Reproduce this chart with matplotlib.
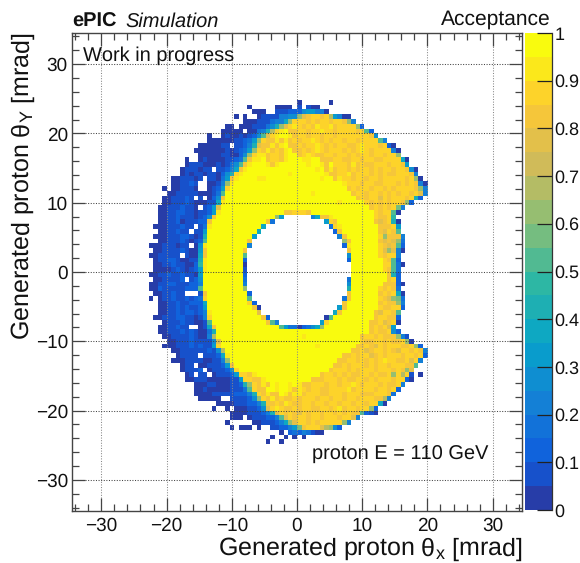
import matplotlib
matplotlib.use("Agg")
import matplotlib.pyplot as plt
import numpy as np
from matplotlib.colors import LinearSegmentedColormap, ListedColormap, BoundaryNorm
from matplotlib.ticker import MultipleLocator

plt.rcParams["font.family"] = ["Liberation Sans", "DejaVu Sans"]
plt.rcParams["mathtext.fontset"] = "custom"
plt.rcParams["mathtext.rm"] = "Liberation Sans"
plt.rcParams["mathtext.it"] = "Liberation Sans:italic"
plt.rcParams["mathtext.bf"] = "Liberation Sans:bold"
plt.rcParams["text.hinting"] = "no_hinting"
plt.rcParams["text.hinting_factor"] = 1

# Acceptance bands: '.' = empty bin, other symbols are looked up in band_of_symbol (each band 0.05 wide)
# Each row: "first_column:cells first_column:cells ..."
first_row = 14
acceptance_rows = [
"50:0 57:0",
"39:0 45:0000 50:1 52:100",
"40:000 45:11122 50:2566 54:440",
"36:0 38:0 41:01111 46:445 49:5 50:cefgg 55:hg 57:d6400",
"38:000111 44:3447cgg 51:ghghgghggh 61:c4",
"34:00 37:000111 43:358ceg 49:i 50:ghghiggihgggg 63:c2",
"33:00000 39:00 41:348dgi 47:jhh 50:gghggigghgggghg 65:a2",
"30:0 33:0100 37:1012 41:5aegi 46:jjih 50:gghgghgghgggggggh 67:5",
"30:000000 36:1123 40:6cghhi 46:hihg 50:hggighghgghggfgggg 68:a4",
"28:0000011 36:1124 40:8ehhihijhh 50:ghggighghggfhgiggghg 70:20",
"27:00000001 35:0123 39:6cghihghij 49:h 50:hghgighggghghgighgggg 71:40",
"28:00000110 36:025 39:cgiihgghij 49:j 50:hgighhgghgghghgghgghgg 72:c",
"25:0 28:0100001123 38:ahiijhgghij 49:j 50:jiijjhhhgghhgghgghhgggg 73:70",
"25:0111000 32:10 34:135a 38:hijjjihijjjj 50:jjijjihjggghihgfhggghggh 74:6",
"24:0111011 32:1 33:1247f 38:ijjjjjjjjjjj 50:jjjj 54:ijhihgghgfgghghgghggh 75:50",
"24:010110110 33:258g 37:ijjjjjjjjjjij 50:jjjjjj 56:ihhggihgggfgfghhgggh 76:4",
"22:0011101 30:110 33:36f 36:ijjjjiijjjjjjjj 51:jjjjijj 58:higgfgghggfggggghg 76:c0",
"22:001121 30:001 33:4c 35:ijjjjjjjjjjjjjjj 51:jjjjjjjjj 60:iggghggffggghghgh 77:40",
"20:0 22:001110 30:01 32:26g 35:jjjjjjjjjjjjjjjj 51:jjjjjjjjjj 61:hgfgghggfghgggg 76:h 77:c4",
"21:00111 26:110001 32:3a 34:jjjjjjjjjjjjjjjj 50:jjjijjjjjjjj 62:hggfgghgfghgghg 77:e4",
"20:0011121 28:1 30:025f 34:jjjjjjjjjjjjjjjj 50:jjjjjjjjjjjjj 63:hgfggeghgggfg 76:82",
"20:001112100011 32:7i 34:jjjjjjjjjjjjjjjj 50:jjjjjjjjjijjjjj 65:gfgfghggf 74:c2",
"19:001112110 29:126e 33:jjjjjjjjjjjjjjjjj 50:jjjjjjjjjjjjjjjj 66:hgfgfg 72:b4",
"19:001122110112 31:6i 33:jjjjjjjjjjjjjj 47:hhgggh 53:jjjjjjjjjjjjjj 67:gfgg 71:a0",
"19:00112111012 30:5f 32:jjjjjjjjjjjjj 45:c6 53:47hhi 58:jjjjjjjjj 67:gfhg 71:9",
"19:0011201112 29:2f 31:jjjjjjjjjjjj 43:f3 56:6gh 59:jjjjjjjj 67:fefg 71:80",
"18:000111211 28:13i 31:jjjjjjjjjjj 42:7 57:3gi 60:jjjjjjjj 68:fhfg 72:6",
"19:0011211 27:116 30:jjjjjjjjjjj 41:7 58:2h 60:jjjjjjjj 68:fegf 72:a",
"18:00011122101 29:8 30:jjjjjjjjjj 40:6 59:4h 61:jjjjjjj 68:gcff 72:f4",
"19:0011121012 29:a 30:jjjjjjjjj 39:f 60:ch 62:jjjjjj 68:fefe 72:c3",
"17:000111011 27:05i 30:jjjjjjjjj 39:4 60:2i 62:jjjjjj 68:ghef 72:a2",
"18:0011112100 28:6h 30:jjjjjjjj 38:h 61:f 62:jjjjjj 68:gece 72:40",
"17:0011111 25:100 28:7h 30:jjjjjjjj 38:a 61:5 62:jjjjjj 68:ghgg 72:4",
"18:0112210011 28:8i 30:jjjjjjjj 38:2 61:2 62:jjjjjjj 69:gfa 72:2",
"18:0011211002 28:9i 30:jjjjjjjj 38:0 62:jjjjjjj 69:gga 72:30",
"18:0000121012 28:6i 30:jjjjjjjj 38:1 62:jjjjjjj 69:gfa 72:3",
"17:00112112110 28:6j 30:jjjjjjjj 38:2 62:jjjjjjjj 70:f8 72:2",
"18:0011112 26:12 28:5 29:jjjjjjjjj 38:3 61:3 62:jjjjjjjj 70:fg 72:2",
"17:00112211122 28:4 29:jjjjjjjjj 38:4 61:5 62:jjjjjjj 69:hff 72:20",
"17:00211111222 28:a 29:jjjjjjjjj 38:c 61:8 62:jjjjjj 68:gfgf 72:3",
"18:0011211 28:1f 30:jjjjjjjjj 39:2 61:h 62:jjjjjj 68:hgfg 72:70",
"17:0 19:011211212 28:3g 30:jjjjjjjjj 39:a 60:3h 62:jjjjjj 68:ghec 72:b3",
"19:001121122 28:27 30:jjjjjjjjj 39:g2 60:h 61:jjjjjjj 68:hghfc4",
"19:001121211 28:26 30:jjjjjjjjjj 40:f0 59:6h 61:jjjjjjj 68:gfhgg2",
"19:00112122 27:124 30:i 31:jjjjjjjjjj 41:e 58:7h 60:jjjjjjj 67:heggha",
"18:00111221101 29:4g 31:jjjjjjjjjjj 42:h2 56:0a 58:jjjjjjjjj 67:fgghh2",
"20:0111211001 30:aj 32:jjjjjjjjjjj 43:ha4 55:6g 57:jjjjjjjjj 66:hfgefg0",
"19:0011211 28:017h 32:jjjjjjjjjjjjjj 46:a633023 53:57c 56:jjjjjjjjjj 66:hgfge6",
"19:00111212100 30:38 32:jjjjjjjjjjjjjjjjjj 50:jjjjjjjjjjjjjjj 65:jhgfhg 71:52",
"20:0011112100 30:4d 32:jjjjjjjjjjjjjjjjjj 50:jijjjjjjjjjjjj 64:hgghghhf 72:c41",
"21:0011121111 31:5e 33:jjjjjjjjjjjjjjjjj 50:jjjjjjjjjjjjjj 64:gfhgghgfhg 74:c0",
"20:00011121211 31:6g 33:jjjjjjjjjjjjjjjjj 50:jjjjijjjjjjjj 63:hfgfeghgggffg 76:c2",
"22:0011111121 32:5d 34:jjjjjjjjjjjjjjjj 50:jjjjjjjjjjjj 62:hfgefgghgfeggfgf 78:4",
"23:01111 29:1112 33:7i 35:jjjjjjjjjjjjjjj 50:jjjjjjjjjj 60:hhgfggefghgggfggfg 78:2",
"22:00011110011 33:4c 35:jjjjjjjjjjjjjjj 50:jjjjjjjjj 59:hhgghgfghgiggfhgeg 77:4",
"24:011 28:001112 34:6h 36:jjjjjjjjjjjjjj 50:jjjjjjjj 58:hhghgggfghgghgggff 76:a",
"24:01112 30:01112 35:5g 37:jjjjjjjjjjjjj 50:jjjjjjj 57:hgggfghggghgggfgh 74:ce",
"25:01 28:11 31:01112 36:6gghi 41:jjjjjjjjj 50:jjjjj 55:hggfghgfhggfghhgcgdg 75:1 77:0",
"25:001110000011 37:6ggh 41:hi 43:jjjjjjj 50:jjj 53:hhhggghgfhgghgfggghgg 74:20",
"27:00011000112 38:8cghihji 46:jjiji 51:hhggghgghggighgggfghhg 73:4",
"27:00100000111 38:3aghhjjijjih 50:ighggfhggggifgggghgghg 72:2",
"27:000011111222 39:48ghihhjihi 50:ihggghfggghggghhhgggh 71:3",
"28:00000 35:11112 40:5cghihghhg 50:hggghgghgghgghggghhd 70:4",
"32:000011122 41:48fhghigh 50:hgghgghgghgghgghgg 68:70",
"31:0 34:0 36:000112 42:5eg 45:ighhg 50:hggfhgghgihgghgg 66:c2",
"35:00001112 43:48egh 48:gf 50:eghgghgghghghh 64:a210",
"35:000 39:011122 45:4aegf 50:gghgghggghgge 63:4",
"34:0 40:00 42:1112 46:47ce 50:gghghggggg 60:c4",
"35:0 37:000 41:0 44:1122 48:46b 51:fggg 55:edc52",
"46:0 48:23 50:243100",
"44:0 47:0 49:0 51:0",
"43:0 46:0",
]
band_of_symbol = {"0": 0, "1": 1, "2": 2, "3": 3, "4": 4, "5": 5, "6": 6, "7": 7, "8": 8, "9": 9,
                  "a": 10, "b": 11, "c": 12, "d": 13, "e": 15, "f": 16, "g": 17, "h": 16, "i": 18, "j": 19}
n_bins = 100
axis_limit = 34.5
n_bands = 20
band_width = 0.05
x_major = [-30, -20, -10, 0, 10, 20, 30]
y_major = [-30, -20, -10, 0, 10, 20, 30]
colorbar_ticks = [0, 0.1, 0.2, 0.3, 0.4, 0.5, 0.6, 0.7, 0.8, 0.9, 1]
colorbar_labels = ["0", "0.1", "0.2", "0.3", "0.4", "0.5", "0.6", "0.7", "0.8", "0.9", "1"]
palette_red = [0.2082, 0.0592, 0.0780, 0.0232, 0.1802, 0.5301, 0.8186, 0.9956, 0.9764]
palette_green = [0.1664, 0.3599, 0.5041, 0.6419, 0.7178, 0.7492, 0.7328, 0.7862, 0.9832]
palette_blue = [0.5293, 0.8684, 0.8385, 0.7914, 0.6425, 0.4662, 0.3499, 0.1968, 0.0539]

acceptance = np.full((n_bins, n_bins), np.nan)
for offset, row in enumerate(acceptance_rows):
    for run in row.split():
        start, cells = run.split(":")
        for k, ch in enumerate(cells):
            acceptance[first_row + offset, int(start) + k] = (band_of_symbol[ch] + 0.5) * band_width

W, H = 580, 563
fig = plt.figure(figsize=(W / 100, H / 100), dpi=100)
def frame(l, t, r, b):
    return [l / W, 1 - b / H, (r - l) / W, (b - t) / H]

base = LinearSegmentedColormap.from_list("bird", list(zip(palette_red, palette_green, palette_blue)), N=256)
cmap = ListedColormap([base((k + 0.99) / n_bands) for k in range(n_bands)])
levels = np.linspace(0, 1, n_bands + 1)
norm = BoundaryNorm(levels, n_bands)

frame_color = "#444444"
TICK = 13.5
ax = fig.add_axes(frame(72, 33, 522, 511))
edges = np.linspace(-axis_limit, axis_limit, n_bins + 1)
ax.pcolormesh(edges, edges[::-1], acceptance, cmap=cmap, norm=norm, linewidth=0, rasterized=True, zorder=1)
ax.set_xlim(-axis_limit, axis_limit)
ax.set_ylim(-axis_limit, axis_limit)
ax.set_xticks(x_major)
ax.set_yticks(y_major)
ax.xaxis.set_minor_locator(MultipleLocator(2))
ax.yaxis.set_minor_locator(MultipleLocator(2))
ax.tick_params(which="major", direction="in", top=True, right=True, length=TICK * 0.72, width=0.9,
               color=frame_color, labelsize=13.6, pad=3, labelcolor="#111111")
ax.tick_params(which="minor", direction="in", top=True, right=True, length=TICK * 0.36, width=0.9,
               color=frame_color)
ax.tick_params(axis="x", pad=4)
ax.set_axisbelow(False)
ax.xaxis.grid(True, which="major", color="#888888", linestyle=(0, (1, 1.5)), linewidth=0.75, zorder=3)
ax.yaxis.grid(True, which="major", color="#444444", linestyle=(0, (1, 1.5)), linewidth=0.75, zorder=3)
for s in ax.spines.values():
    s.set_color(frame_color)
    s.set_linewidth(1.0)

fig.text(522 / W, 1 - 549 / H, r"Generated proton $\mathrm{\theta_{x}}$ [mrad]", ha="right", va="center",
         fontsize=18.1, color="#111111")
fig.text(23 / W, 1 - 33 / H, r"Generated proton $\mathrm{\theta_{Y}}$ [mrad]", ha="center", va="top",
         rotation=90, fontsize=18.1, color="#111111")

fig.text(72 / W, 1 - 27 / H, "ePIC", fontsize=14.6, fontweight="bold", ha="left", va="baseline", color="#111111")
fig.text(125.5 / W, 1 - 27 / H, "Simulation", fontsize=14.6, fontstyle="italic", ha="left", va="baseline", color="#111111")
fig.text(551 / W, 1 - 25 / H, "Acceptance", fontsize=14.9, ha="right", va="baseline", color="#111111")
fig.text(83 / W, 1 - 61 / H, "Work in progress", fontsize=14.65, ha="left", va="baseline", color="#111111")
fig.text(312 / W, 1 - 460 / H, "proton E = 110 GeV", fontsize=14.7, ha="left", va="baseline", color="#111111")

cax = fig.add_axes(frame(525, 33, 551.5, 510))
cax.pcolormesh([0, 1], levels, (levels[:-1, None] + band_width / 2), cmap=cmap, norm=norm, rasterized=True)
cax.set_xlim(0, 1)
cax.set_ylim(0, 1)
cax.set_xticks([])
cax.yaxis.tick_right()
cax.set_yticks(colorbar_ticks, labels=colorbar_labels)
cax.tick_params(axis="y", direction="in", length=10.5, width=0.9, color="#222222", labelsize=13.0, pad=2,
                labelcolor="#111111")
for name, s in cax.spines.items():
    s.set_visible(name == "right")
    s.set_color("#333333")
    s.set_linewidth(0.9)

fig.savefig("out.png", dpi=100)
